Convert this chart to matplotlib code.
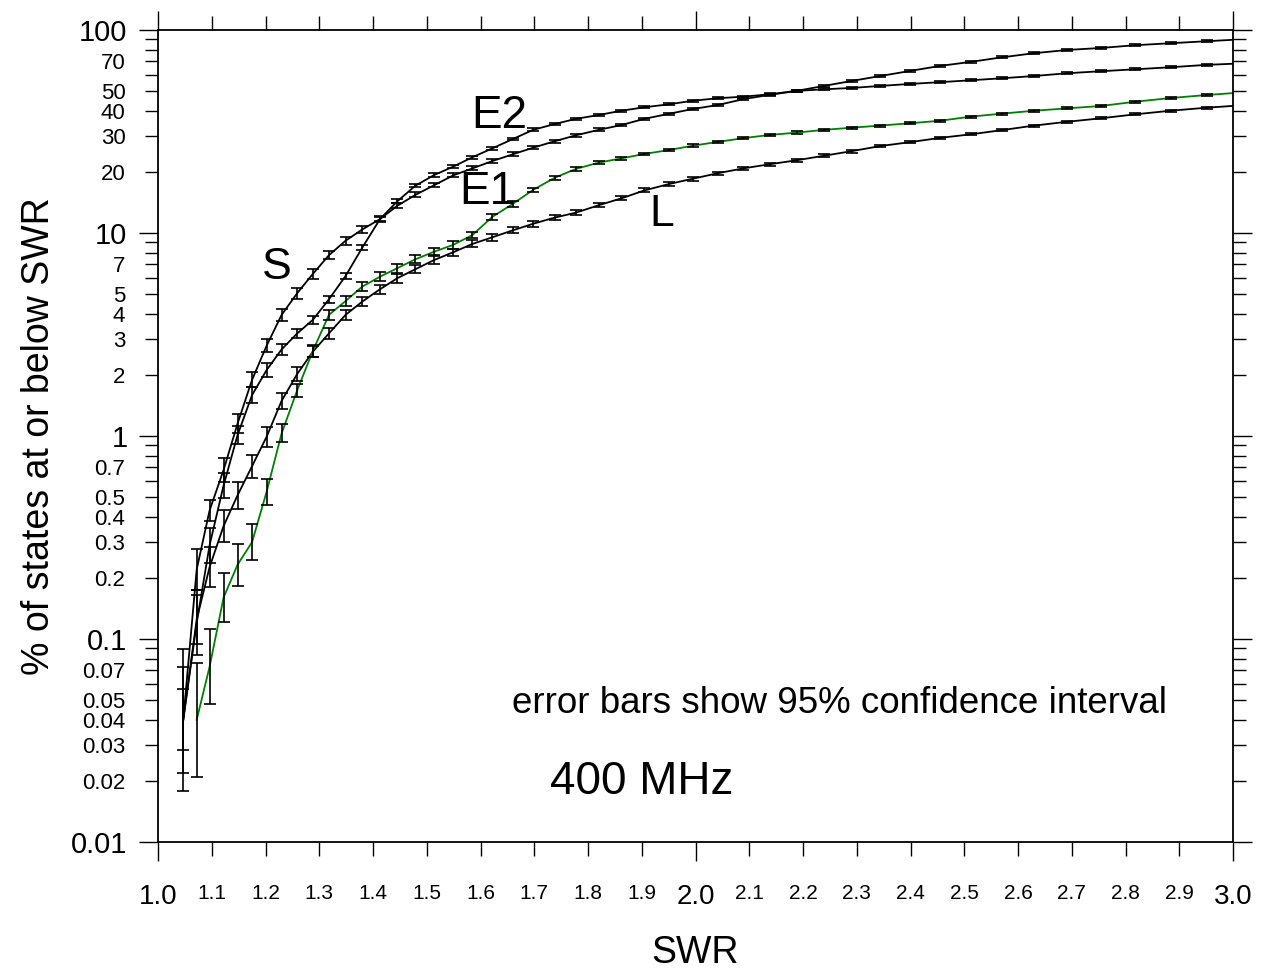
import numpy as np
import matplotlib
matplotlib.use('Agg')
import matplotlib.pyplot as plt
from matplotlib.ticker import FixedLocator, FixedFormatter

plt.rcParams['font.family'] = ['Liberation Sans', 'DejaVu Sans']

# SWR sample points
swr = [1.047, 1.072, 1.096, 1.122, 1.148, 1.175, 1.202, 1.230, 1.259, 1.288,
       1.318, 1.349, 1.380, 1.413, 1.445, 1.479, 1.514, 1.549, 1.585, 1.622,
       1.660, 1.698, 1.738, 1.778, 1.820, 1.862, 1.905, 1.950, 1.995, 2.042,
       2.089, 2.138, 2.188, 2.239, 2.291, 2.344, 2.399, 2.455, 2.512, 2.570,
       2.630, 2.692, 2.754, 2.818, 2.884, 2.951, 3.020]

# % of states at or below SWR
s_vals = [0.04, 0.22, 0.43, 0.68, 1.15, 1.89, 2.78, 3.95, 5.05, 6.28,
          7.77, 9.16, 10.4, 11.7, 13.6, 15.4, 17.2, 19.2, 20.8, 22.6,
          24.4, 26.3, 28.3, 30.3, 32.2, 34.0, 36.5, 38.6, 40.8, 42.7,
          45.6, 47.9, 50.1, 53.0, 56.1, 59.3, 62.8, 66.5, 69.6, 73.3,
          76.8, 79.7, 81.5, 84.1, 86.0, 88.0, 90.0]
e2_vals = [0.04, 0.12, 0.29, 0.57, 1.01, 1.59, 2.11, 2.67, 3.2, 3.73,
           4.71, 6.14, 8.46, 11.7, 14.3, 17.1, 19.3, 21.2, 23.6, 26.1,
           29.0, 32.2, 34.4, 36.5, 38.1, 40.0, 41.6, 43.0, 44.8, 46.1,
           46.9, 48.2, 50.1, 51.0, 51.8, 53.0, 54.2, 55.3, 56.5, 57.8,
           59.3, 61.2, 62.6, 64.0, 65.5, 67.3, 68.5]
l_vals = [0.04, 0.125, 0.226, 0.36, 0.51, 0.71, 0.99, 1.49, 2.02, 2.6,
          3.2, 3.95, 4.59, 5.28, 5.98, 6.63, 7.36, 8.03, 8.83, 9.52,
          10.3, 11.1, 11.9, 12.6, 13.7, 14.8, 16.2, 17.4, 18.5, 19.7,
          20.8, 21.8, 22.8, 24.0, 25.3, 26.8, 28.0, 29.4, 30.6, 32.1,
          33.8, 35.3, 36.7, 38.4, 40.0, 41.4, 42.6]
# E1 starts one point later
e1_vals = [0.04, 0.073, 0.16, 0.232, 0.30, 0.53, 1.03, 1.68, 2.62,
           3.95, 4.62, 5.44, 6.09, 6.70, 7.42, 8.09, 8.73, 9.77, 12.0,
           13.9, 16.3, 18.7, 20.7, 22.2, 23.3, 24.5, 25.6, 26.9, 28.1,
           29.3, 30.4, 31.2, 32.2, 33.0, 33.8, 34.7, 35.7, 37.4, 38.7,
           40.0, 41.1, 42.2, 44.3, 46.2, 47.8, 49.3]

# 95% confidence half-widths, in decades
s_err = [0.35, 0.10, 0.052, 0.06, 0.045, 0.037, 0.032, 0.03, 0.027, 0.024,
         0.021, 0.019, 0.016, 0.014, 0.013, 0.012, 0.011, 0.010, 0.010, 0.009,
         0.009, 0.008, 0.008, 0.007, 0.007, 0.007, 0.006, 0.006, 0.006, 0.006,
         0.006, 0.006, 0.005, 0.005, 0.005, 0.005, 0.005, 0.005, 0.005, 0.005,
         0.005, 0.005, 0.005, 0.005, 0.005, 0.005, 0.005]
e2_err = [0.26, 0.16, 0.086, 0.062, 0.045, 0.041, 0.033, 0.028, 0.024, 0.021,
          0.018, 0.015, 0.013, 0.011, 0.010, 0.009, 0.009, 0.008, 0.008, 0.007,
          0.007, 0.007, 0.006, 0.006, 0.006, 0.006, 0.006, 0.005, 0.005, 0.005,
          0.005, 0.005, 0.005, 0.005, 0.005, 0.005, 0.005, 0.005, 0.005, 0.005,
          0.005, 0.005, 0.005, 0.005, 0.005, 0.005, 0.005]
l_err = [0.15, 0.12, 0.10, 0.08, 0.066, 0.057, 0.048, 0.039, 0.033, 0.028,
         0.026, 0.025, 0.024, 0.023, 0.022, 0.020, 0.019, 0.018, 0.017, 0.016,
         0.015, 0.014, 0.013, 0.012, 0.011, 0.010, 0.010, 0.009, 0.009, 0.008,
         0.008, 0.008, 0.007, 0.007, 0.007, 0.006, 0.006, 0.006, 0.005, 0.005,
         0.005, 0.005, 0.005, 0.005, 0.005, 0.005, 0.005]
e1_err = [0.28, 0.186, 0.123, 0.103, 0.089, 0.066, 0.045, 0.033, 0.028,
          0.026, 0.025, 0.024, 0.022, 0.021, 0.020, 0.019, 0.018, 0.017, 0.014,
          0.013, 0.011, 0.010, 0.009, 0.008, 0.008, 0.007, 0.007, 0.007, 0.006,
          0.006, 0.006, 0.006, 0.005, 0.005, 0.005, 0.005, 0.005, 0.005, 0.005,
          0.005, 0.005, 0.005, 0.005, 0.005, 0.005, 0.005]

# tick positions / labels
x_major = [1.0, 2.0, 3.0]
x_major_labels = ['1.0', '2.0', '3.0']
x_minor = [1.1, 1.2, 1.3, 1.4, 1.5, 1.6, 1.7, 1.8, 1.9,
           2.1, 2.2, 2.3, 2.4, 2.5, 2.6, 2.7, 2.8, 2.9]
x_minor_labels = ['1.1', '1.2', '1.3', '1.4', '1.5', '1.6', '1.7', '1.8', '1.9',
                  '2.1', '2.2', '2.3', '2.4', '2.5', '2.6', '2.7', '2.8', '2.9']
y_major = [0.01, 0.1, 1, 10, 100]
y_major_labels = ['0.01', '0.1', '1', '10', '100']
y_minor = [0.02, 0.03, 0.04, 0.05, 0.06, 0.07, 0.08, 0.09,
           0.2, 0.3, 0.4, 0.5, 0.6, 0.7, 0.8, 0.9,
           2, 3, 4, 5, 6, 7, 8, 9,
           20, 30, 40, 50, 60, 70, 80, 90]
y_minor_labels = ['0.02', '0.03', '0.04', '0.05', '', '0.07', '', '',
                  '0.2', '0.3', '0.4', '0.5', '', '0.7', '', '',
                  '2', '3', '4', '5', '', '7', '', '',
                  '20', '30', '40', '50', '', '70', '', '']

fig = plt.figure(figsize=(12.61, 9.69), dpi=100)
ax = fig.add_axes([0.1253, 0.1311, 0.8525, 0.8380])


def draw(x, v, e, color):
    x = np.array(x)
    v = np.array(v)
    e = np.array(e)
    ax.plot(x, v, color=color, lw=1.3, zorder=2)
    lo = v - v * 10 ** (-e)
    hi = v * 10 ** e - v
    ax.errorbar(x, v, yerr=[lo, hi], fmt='none', ecolor='black',
                elinewidth=1.2, capsize=4, capthick=1.2, zorder=3)


draw(swr, s_vals, s_err, 'black')
draw(swr, e2_vals, e2_err, 'black')
draw(swr, l_vals, l_err, 'black')
draw(swr[1:], e1_vals, e1_err, '#008000')

ax.set_yscale('log')
ax.set_xlim(1.0, 3.0)
ax.set_ylim(0.01, 100)

ax.xaxis.set_major_locator(FixedLocator(x_major))
ax.xaxis.set_major_formatter(FixedFormatter(x_major_labels))
ax.xaxis.set_minor_locator(FixedLocator(x_minor))
ax.xaxis.set_minor_formatter(FixedFormatter(x_minor_labels))
ax.yaxis.set_major_locator(FixedLocator(y_major))
ax.yaxis.set_major_formatter(FixedFormatter(y_major_labels))
ax.yaxis.set_minor_locator(FixedLocator(y_minor))
ax.yaxis.set_minor_formatter(FixedFormatter(y_minor_labels))

ax.tick_params(axis='x', which='major', direction='out', length=14, width=1,
               labelsize=20, pad=16, top=True)
ax.tick_params(axis='x', which='minor', direction='out', length=10, width=1,
               labelsize=15, pad=20, top=True)
ax.tick_params(axis='y', which='major', direction='out', length=14, width=1,
               labelsize=21, pad=8, right=True)
ax.tick_params(axis='y', which='minor', direction='out', length=9.5, width=1,
               labelsize=16, pad=14, right=True)
for sp in ax.spines.values():
    sp.set_linewidth(1.3)

ax.set_xlabel('SWR', fontsize=27, labelpad=18)
ax.set_ylabel('% of states at or below SWR', fontsize=27, labelpad=10)

ax.text(1.221, 6.72, 'S', fontsize=32, ha='center', va='center')
ax.text(1.634, 37.7, 'E2', fontsize=33, ha='center', va='center')
ax.text(1.612, 15.9, 'E1', fontsize=33, ha='center', va='center')
ax.text(1.938, 12.3, 'L', fontsize=32, ha='center', va='center')
ax.text(1.659, 0.0479, 'error bars show 95% confidence interval',
        fontsize=26.5, ha='left', va='center')
ax.text(1.900, 0.0198, '400 MHz', fontsize=33, ha='center', va='center')

fig.savefig('out.png', dpi=100)
